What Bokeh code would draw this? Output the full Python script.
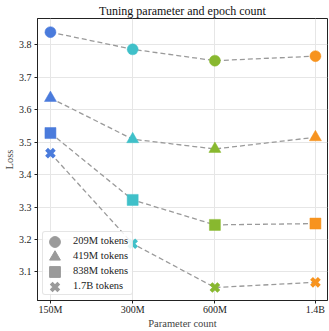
import numpy as np
from bokeh.plotting import figure
from bokeh.models import (FixedTicker, Legend, LegendItem, ColumnDataSource, Range1d)
from bokeh.embed import file_html
from bokeh.resources import INLINE

# Model sizes (parameters) and their tick labels
params = [150e6, 300e6, 600e6, 1.4e9]
param_labels = ["150M", "300M", "600M", "1.4B"]
point_colors = ["#4a7bdc", "#3fc0c9", "#88b82f", "#f7931e"]

# Loss per token budget, one value per model size
loss_209m = [3.839, 3.786, 3.751, 3.765]
loss_419m = [3.636, 3.509, 3.479, 3.515]
loss_838m = [3.528, 3.322, 3.245, 3.249]
loss_1_7b = [3.466, 3.187, 3.052, 3.068]

series = [
    ("209M tokens", loss_209m, "circle"),
    ("419M tokens", loss_419m, "triangle"),
    ("838M tokens", loss_838m, "square"),
    ("1.7B tokens", loss_1_7b, "x"),
]

FONT = "Liberation Serif"
LEGEND_GREY = "#9a9a9a"

p = figure(width=329, height=331, x_axis_type="log",
           x_range=Range1d(134.5e6, 1.55e9), y_range=Range1d(3.012, 3.881),
           output_backend="svg", toolbar_location=None,
           min_border_left=2, min_border_right=2, min_border_top=2, min_border_bottom=0)

p.title.text = "Tuning parameter and epoch count"
p.title.align = "center"
p.title.text_font = FONT
p.title.text_font_size = "12px"
p.title.text_font_style = "normal"
p.title.text_color = "#111111"
p.title.standoff = 2

p.outline_line_color = "#222222"
p.outline_line_width = 1

for ax in (p.xaxis[0], p.yaxis[0]):
    ax.axis_label_text_font = FONT
    ax.axis_label_text_font_style = "normal"
    ax.axis_label_text_font_size = "10.5px"
    ax.major_label_text_font = FONT
    ax.major_label_text_font_size = "10px"
    ax.major_label_text_color = "#222222"
    ax.axis_line_color = "#222222"
    ax.major_tick_line_color = "#222222"
    ax.major_tick_out = 3
    ax.major_tick_in = 0
    ax.minor_tick_line_color = None

p.xaxis.major_label_standoff = 0
p.xaxis.axis_label_standoff = 0
p.yaxis.major_label_standoff = 3
p.yaxis.axis_label_standoff = 1

p.xaxis.axis_label = "Parameter count"
p.yaxis.axis_label = "Loss"
p.xaxis.ticker = FixedTicker(ticks=params, minor_ticks=[])
p.xaxis.major_label_overrides = {v: s for v, s in zip(params, param_labels)}
p.yaxis.ticker = FixedTicker(ticks=[3.1, 3.2, 3.3, 3.4, 3.5, 3.6, 3.7, 3.8], minor_ticks=[])

p.xgrid.grid_line_color = "#e6e6e6"
p.ygrid.grid_line_color = "#e6e6e6"
p.xgrid.ticker = p.xaxis[0].ticker
p.ygrid.ticker = p.yaxis[0].ticker

# Legend swatches sit far outside the visible ranges so only the legend shows them
off_x, off_y = [1e13], [10.0]

label_items = []
swatches = []
for name, losses, marker in series:
    p.line(params, losses, line_color="#9a9a9a", line_width=1.3, line_dash="5 3")
    src = ColumnDataSource(dict(x=params, y=losses, c=point_colors))
    if marker == "x":
        p.scatter("x", "y", source=src, marker="x", size=11, line_color="c", line_width=4)
        swatch = p.scatter(x=off_x, y=off_y, marker="x", size=10, line_color=LEGEND_GREY,
                           line_width=4)
    else:
        sz = {"circle": 11, "triangle": 12, "square": 11}[marker]
        p.scatter("x", "y", source=src, marker=marker, size=sz, fill_color="c",
                  line_color="c", line_width=0.5)
        swatch = p.scatter(x=off_x, y=off_y, marker=marker, size=sz, fill_color=LEGEND_GREY,
                           line_color=LEGEND_GREY)
    hidden = p.scatter(x=off_x, y=off_y, marker="circle", size=1, fill_alpha=0, line_alpha=0)
    label_items.append(LegendItem(label=name, renderers=[hidden]))
    swatches.append(swatch)

# Legend box with the labels; swatches are overlaid by small single-item legends
LX, LY = 5, 5          # legend offset from the frame's bottom-left corner (px)
ROW_H, PAD, GLYPH_W = 15, 1, 23

legend = Legend(items=label_items, location=(LX, LY))
legend.label_text_font = FONT
legend.label_text_font_size = "10.5px"
legend.label_text_color = "#222222"
legend.border_line_color = "#cccccc"
legend.border_radius = 3
legend.background_fill_color = "white"
legend.background_fill_alpha = 0.85
legend.margin = 0
legend.padding = PAD
legend.spacing = 0
legend.label_height = ROW_H
legend.label_width = 58
legend.glyph_height = ROW_H
legend.glyph_width = GLYPH_W
legend.label_standoff = 6
p.add_layout(legend)

SW = 27  # swatch box: markers are drawn at 0.4 of this
n = len(swatches)
for k, swatch in enumerate(swatches):
    row_from_bottom = n - 1 - k
    cy = LY + PAD + ROW_H / 2 + ROW_H * row_from_bottom
    cx = LX + PAD + GLYPH_W / 2
    sw_leg = Legend(items=[LegendItem(label="", renderers=[swatch])],
                    location=(round(cx - SW / 2), round(cy - SW / 2)))
    sw_leg.border_line_color = None
    sw_leg.background_fill_alpha = 0
    sw_leg.margin = 0
    sw_leg.padding = 0
    sw_leg.glyph_width = SW
    sw_leg.glyph_height = SW
    sw_leg.label_height = SW
    sw_leg.label_width = 0
    sw_leg.label_standoff = 0
    p.add_layout(sw_leg)

open("out.html", "w").write(file_html(p, INLINE))
